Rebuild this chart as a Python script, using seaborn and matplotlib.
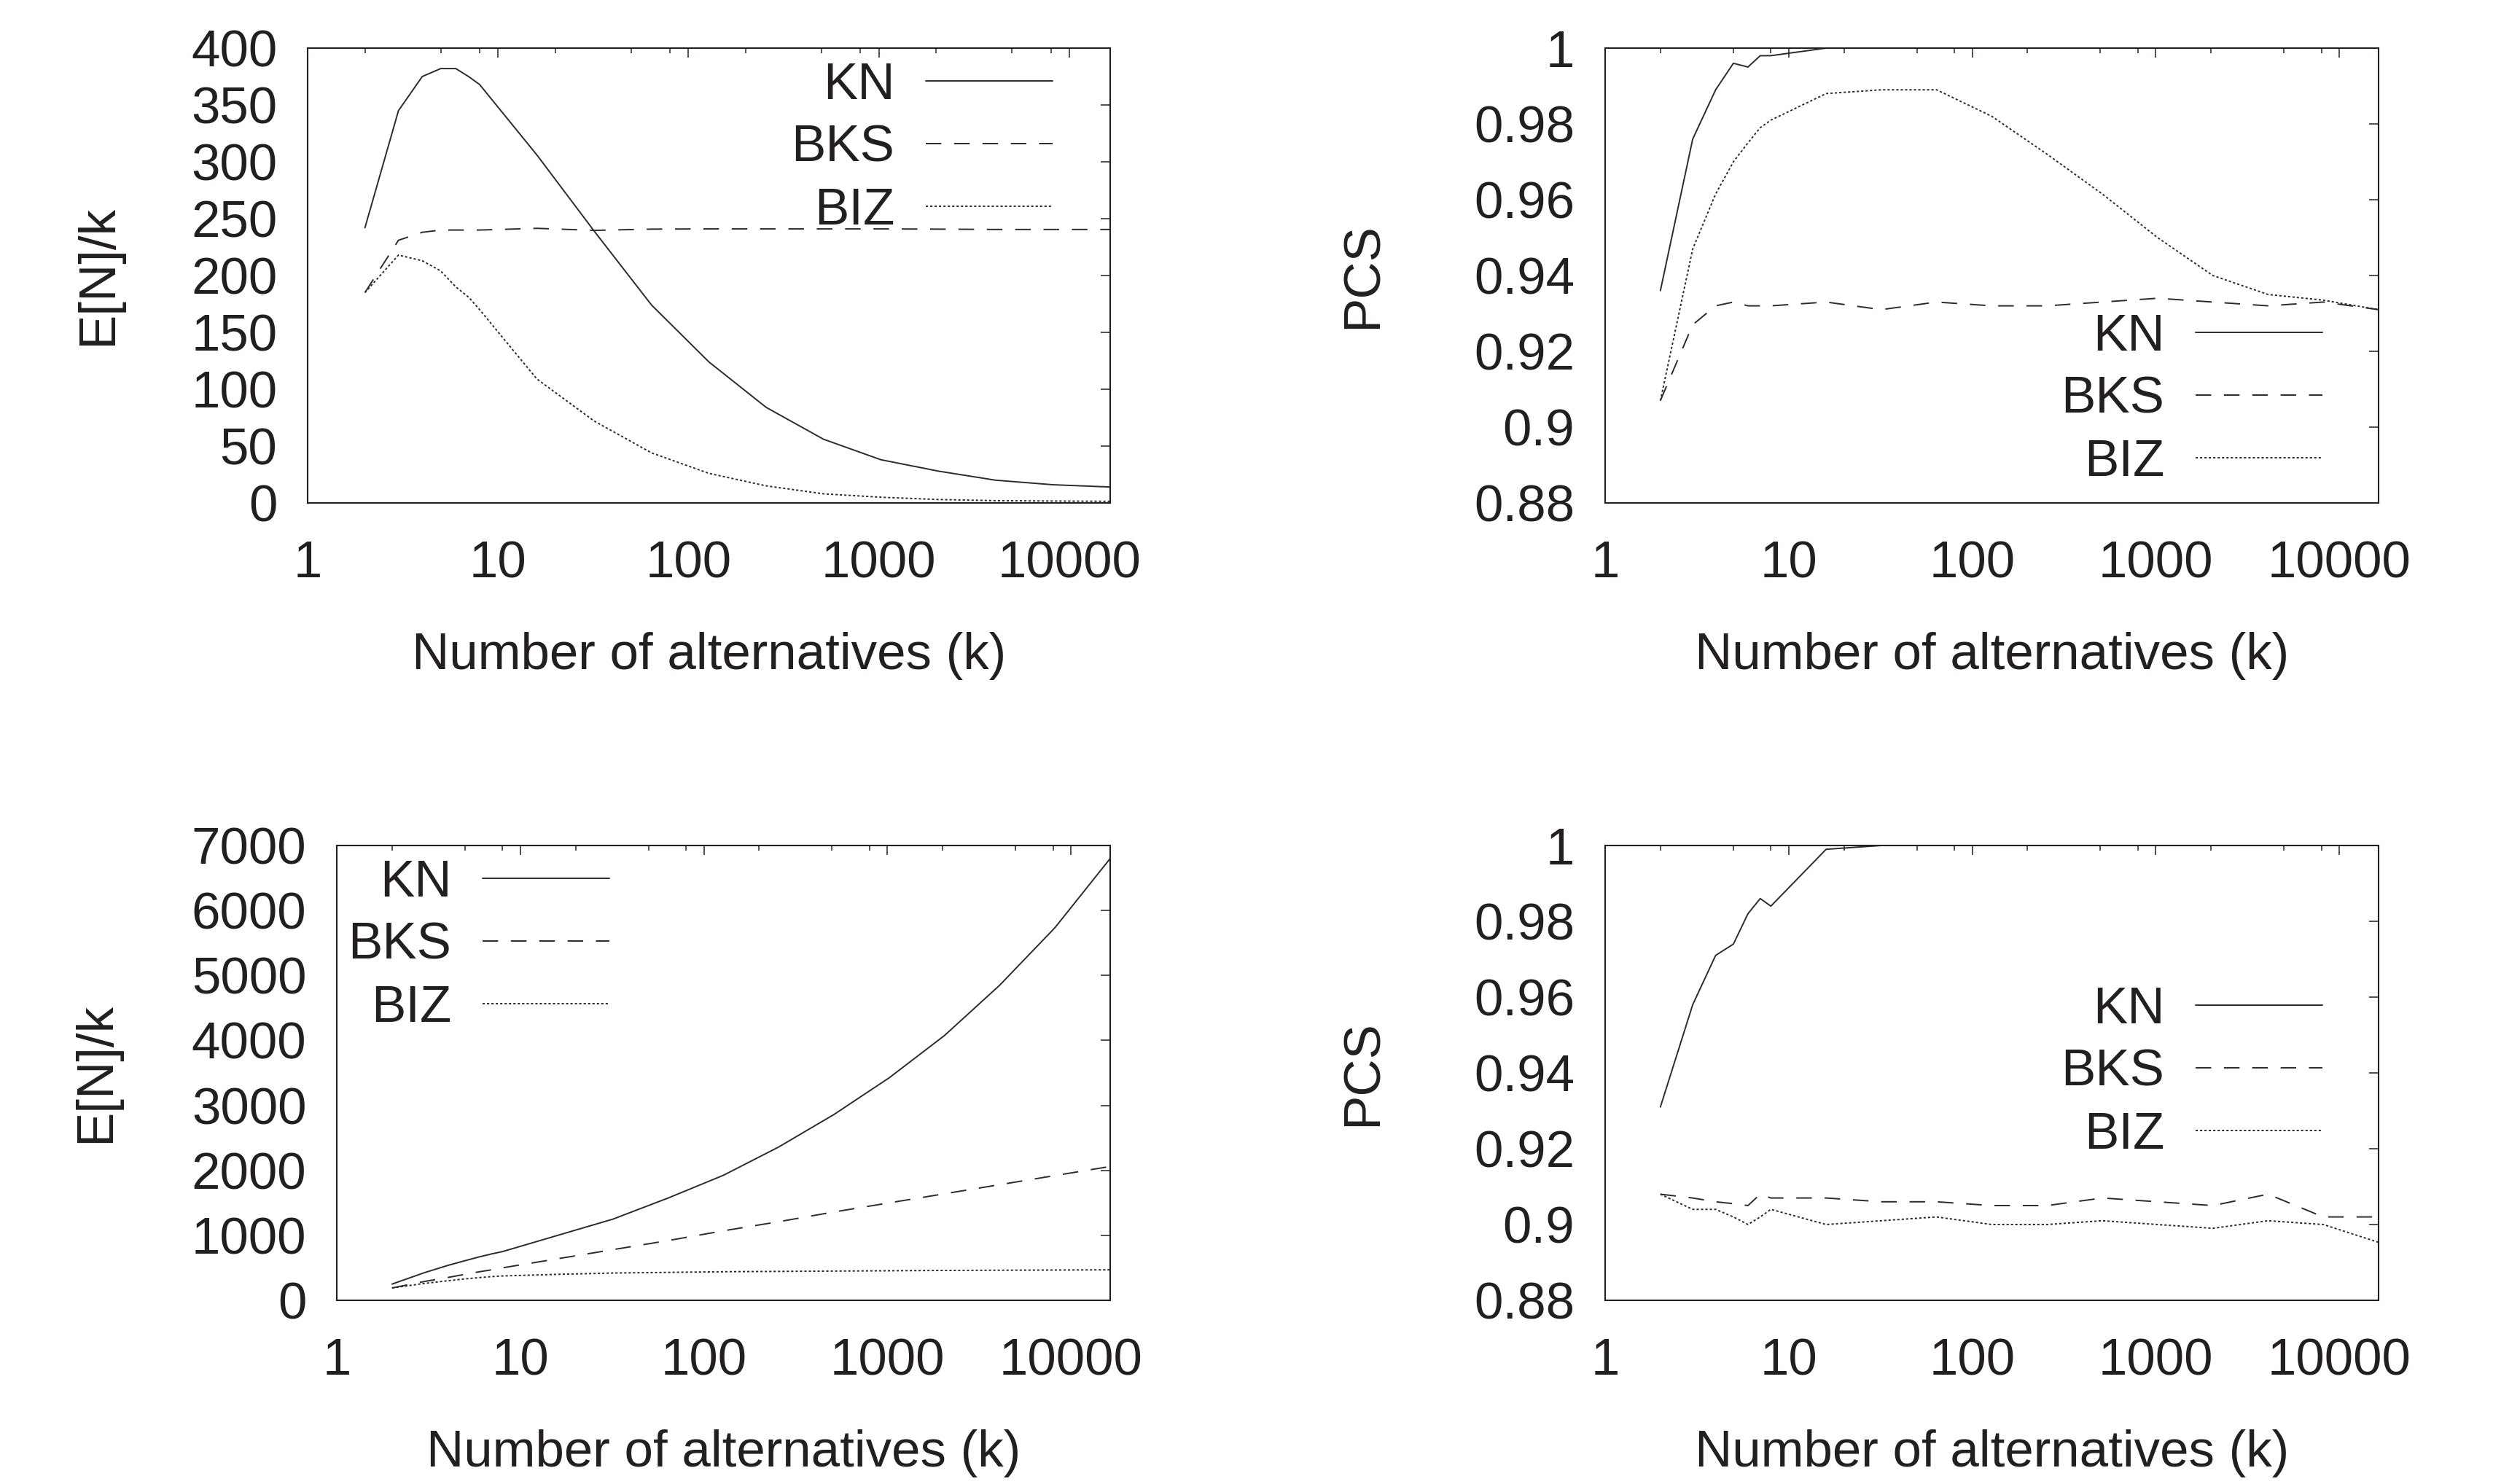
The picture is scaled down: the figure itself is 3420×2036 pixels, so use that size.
import numpy as np
import pandas as pd
import matplotlib
matplotlib.use("Agg")
import matplotlib.pyplot as plt
import seaborn as sns
from matplotlib.ticker import FixedLocator, FixedFormatter, LogLocator, NullFormatter

# === DATOS ===
k = [2, 3, 4, 5, 6, 7, 8, 16, 32, 64, 128, 256, 512, 1024, 2048, 4096, 8192, 16384]
methods = ["KN", "BKS", "BIZ"]

# panel arriba-izq: E[N]/k
kn_a = [242, 345, 375, 382, 382, 375, 368, 306, 239, 174, 124, 84, 56, 38, 28, 20, 16, 14]
bks_a = [185, 231, 238, 240, 240, 240, 240, 241.5, 239.7, 240.8, 241, 241, 241, 241, 240.8, 240.5, 240.5, 240.5]
biz_a = [185, 218, 213, 204, 190, 181, 170, 109, 72, 44, 26, 15, 8, 5, 3, 2, 1.7, 1.4]

# panel arriba-der: PCS
kn_b = [0.936, 0.976, 0.989, 0.996, 0.995, 0.998, 0.998, 1.0, 1.0, 1.0, 1.0, 1.0, 1.0, 1.0, 1.0, 1.0, 1.0, 1.0]
bks_b = [0.907, 0.927, 0.932, 0.933, 0.932, 0.932, 0.932, 0.933, 0.931, 0.933, 0.932, 0.932, 0.933, 0.934, 0.933, 0.932, 0.933, 0.931]
biz_b = [0.907, 0.947, 0.9615, 0.970, 0.975, 0.979, 0.981, 0.988, 0.989, 0.989, 0.982, 0.972, 0.9615, 0.950, 0.940, 0.935, 0.9335, 0.931]

# panel abajo-izq: E[N]/k
kn_c = [250, 425, 535, 610, 670, 715, 750, 1000, 1250, 1575, 1925, 2360, 2860, 3425, 4075, 4850, 5735, 6800]
bks_c = [190, 290, 350, 400, 440, 470, 500, 640, 780, 920, 1070, 1210, 1360, 1500, 1640, 1780, 1920, 2060]
biz_c = [190, 260, 300, 330, 350, 365, 375, 400, 420, 430, 440, 445, 450, 455, 460, 463, 466, 470]

# panel abajo-der: PCS
kn_d = [0.931, 0.958, 0.971, 0.974, 0.982, 0.986, 0.984, 0.999, 1.0, 1.0, 1.0, 1.0, 1.0, 1.0, 1.0, 1.0, 1.0, 1.0]
bks_d = [0.908, 0.907, 0.906, 0.9055, 0.905, 0.908, 0.907, 0.907, 0.906, 0.906, 0.905, 0.905, 0.907, 0.906, 0.905, 0.908, 0.902, 0.902]
biz_d = [0.908, 0.904, 0.904, 0.902, 0.900, 0.902, 0.904, 0.900, 0.901, 0.902, 0.900, 0.900, 0.901, 0.900, 0.899, 0.901, 0.900, 0.8953]

xticks = [1, 10, 100, 1000, 10000]
xticklabels = ["1", "10", "100", "1000", "10000"]
en_ticks = [0, 50, 100, 150, 200, 250, 300, 350, 400]
en2_ticks = [0, 1000, 2000, 3000, 4000, 5000, 6000, 7000]
pcs_ticks = [0.88, 0.90, 0.92, 0.94, 0.96, 0.98, 1.0]
pcs_labels = ["0.88", "0.9", "0.92", "0.94", "0.96", "0.98", "1"]

# === ESTETICA ===
sns.set_theme(style="white")
plt.rcParams["font.family"] = ["Liberation Sans", "DejaVu Sans"]
TXT = "#231f20"
LINE = "#2b2b2b"
FS = 51
W, H = 3420, 2036
DASHES = {"KN": "", "BKS": (11, 9), "BIZ": (1.6, 1.5)}

fig = plt.figure(figsize=(W / 100, H / 100), dpi=100)
fig.patch.set_facecolor("white")


def px_axes(left, top, right, bottom):
    return fig.add_axes([left / W, 1 - bottom / H, (right - left) / W, (bottom - top) / H])


def panel(ax, kn, bks, biz, ylabel, yticks, ylabels, ylim, ylab_x, leg_xy):
    df = pd.DataFrame({
        "k": k * 3,
        "val": kn + bks + biz,
        "method": [m for m in methods for _ in k],
    })
    sns.lineplot(data=df, x="k", y="val", style="method", style_order=methods,
                 dashes=DASHES, color=LINE, linewidth=1.4, estimator=None,
                 sort=False, legend=False, ax=ax)
    ax.set_xscale("log")
    ax.set_xlim(1, 16384)
    ax.set_ylim(*ylim)
    ax.xaxis.set_major_locator(FixedLocator(xticks))
    ax.xaxis.set_major_formatter(FixedFormatter(xticklabels))
    ax.xaxis.set_minor_locator(LogLocator(base=10, subs=[2, 5, 8], numticks=20))
    ax.xaxis.set_minor_formatter(NullFormatter())
    ax.yaxis.set_major_locator(FixedLocator(yticks))
    ax.yaxis.set_major_formatter(FixedFormatter(ylabels))
    ax.tick_params(which="both", direction="in", top=True, right=True,
                   colors=TXT, labelsize=FS, width=1.1)
    ax.tick_params(which="major", length=9.4)
    ax.tick_params(which="minor", length=5)
    ax.tick_params(axis="x", which="major", pad=37)
    ax.tick_params(axis="y", which="major", pad=30)
    for s in ax.spines.values():
        s.set_color(TXT)
        s.set_linewidth(1.5)
    ax.set_xlabel("Number of alternatives (k)", fontsize=FS, color=TXT, labelpad=43)
    ax.set_ylabel(ylabel, fontsize=FS, color=TXT, va="center")
    bb = ax.get_position()
    ax.yaxis.set_label_coords((ylab_x / W - bb.x0) / bb.width, 0.5)
    ax.legend(ax.get_lines()[:3], methods, loc="center right",
              bbox_to_anchor=(leg_xy[0] / W, 1 - leg_xy[1] / H),
              bbox_transform=fig.transFigure, frameon=False, markerfirst=False,
              handlelength=2.46, handletextpad=0.6, labelspacing=0.28,
              borderpad=0, borderaxespad=0, fontsize=FS, labelcolor=TXT)


ax1 = px_axes(422, 66, 1523, 690)
panel(ax1, kn_a, bks_a, biz_a, "E[N]/k", en_ticks, [str(v) for v in en_ticks],
      (0, 400), 135, (1444, 204))

ax2 = px_axes(2202, 66, 3263, 690)
panel(ax2, kn_b, bks_b, biz_b, "PCS", pcs_ticks, pcs_labels,
      (0.88, 1.0), 1871, (3186, 549))

ax3 = px_axes(462, 1160, 1523, 1784)
panel(ax3, kn_c, bks_c, biz_c, "E[N]/k", en2_ticks, [str(v) for v in en2_ticks],
      (0, 7000), 132, (836, 1298))

ax4 = px_axes(2202, 1160, 3263, 1784)
panel(ax4, kn_d, bks_d, biz_d, "PCS", pcs_ticks, pcs_labels,
      (0.88, 1.0), 1871, (3186, 1472))

fig.savefig("out.png", dpi=100, facecolor="white")
